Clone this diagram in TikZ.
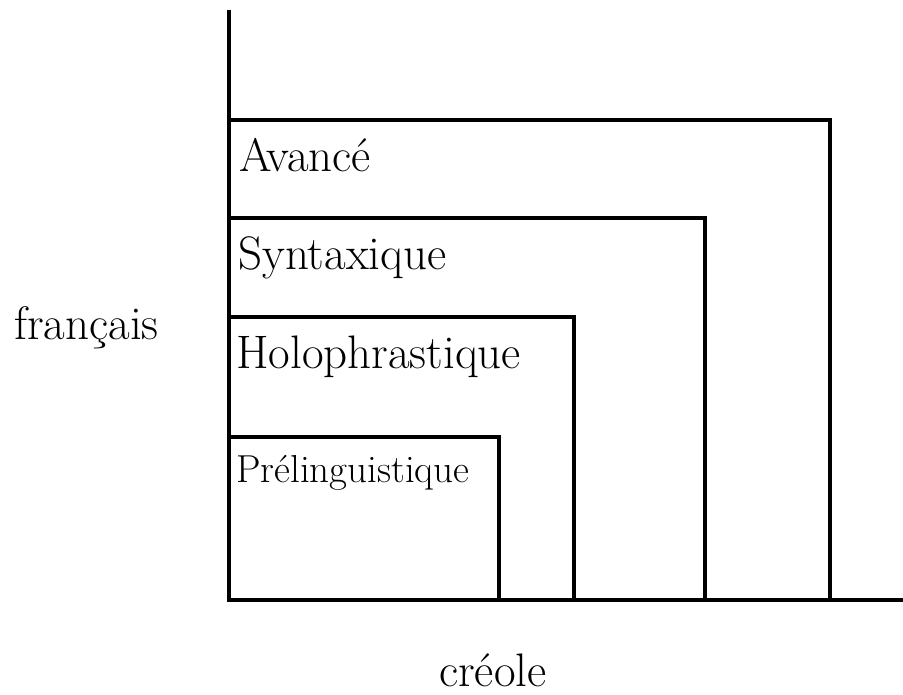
\documentclass[tikz,border=0pt]{standalone}
\usepackage{fontspec}
\begin{document}
\begin{tikzpicture}[x=1pt,y=-1pt,
  frame/.style={line width=4.5pt,line join=miter,line cap=butt},
  lbl/.style={inner sep=0pt,anchor=base west,font=\fontsize{47}{52}\selectfont},
  small/.style={inner sep=0pt,anchor=base west,font=\fontsize{39}{44}\selectfont}]
\useasboundingbox (0,0) rectangle (903,695);
% axes
\coordinate (top) at (229,10);
\coordinate (origin) at (229,600);
\coordinate (right) at (903,600);
\draw[frame] (top) -- (origin) -- (right);
% nested boxes
\draw[frame] (229,120) -- (830,120) -- (830,600);
\draw[frame] (229,218) -- (705,218) -- (705,600);
\draw[frame] (229,317) -- (574,317) -- (574,600);
\draw[frame] (229,437) -- (499,437) -- (499,600);
% labels
\node[lbl] (avance) at (239,172) {Avancé};
\node[lbl] (syntax) at (238,270) {Syntaxique};
\node[lbl] (holo) at (236,368) {Holophrastique};
\node[small] (preling) at (236,482) {Prélinguistique};
\node[lbl] (francais) at (14,340) {français};
\node[lbl] (creole) at (439,686) {créole};
\end{tikzpicture}
\end{document}
